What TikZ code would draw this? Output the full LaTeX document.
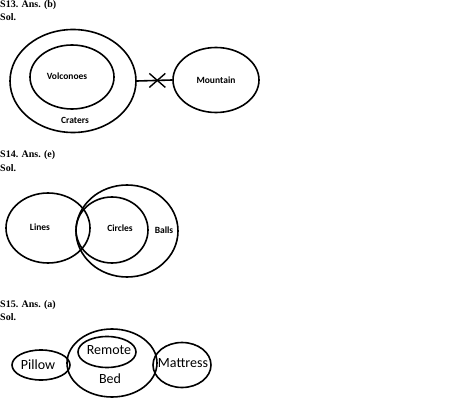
\documentclass[tikz,border=0pt]{standalone}
\usepackage{fontspec}
\setmainfont{Liberation Serif}
\newfontfamily\labelfont{Carlito}
\usetikzlibrary{shapes.geometric, positioning, calc}

\begin{document}
\begin{tikzpicture}[
    x=1pt, y=-1pt,
    heading/.style={anchor=west, inner sep=0pt, font=\bfseries\fontsize{10}{12}\selectfont},
    setbox/.style={ellipse, draw, line width=1.6pt, inner sep=0pt},
    boldlabel/.style={inner sep=0pt, font=\labelfont\bfseries\fontsize{9.5}{11}\selectfont},
    plainlabel/.style={inner sep=0pt, font=\labelfont\fontsize{14}{16}\selectfont}
]
\useasboundingbox (0,0) rectangle (474,401);

% S13
\node[heading] (h13) at (0,5) {S13. Ans. (b)};
\node[heading] (s13) at (0,17) {Sol.};
\node[setbox, minimum width=126, minimum height=103] (craters) at (73,81) {};
\node[setbox, minimum width=84, minimum height=64] (volc) at (72,77) {};
\node[boldlabel] (volctext) at (67,76) {Volconoes};
\node[boldlabel] (cratext) at (75,120) {Craters};
\node[setbox, minimum width=86, minimum height=65, boldlabel, line width=1.6pt, draw] (mountain) at (216,80) {Mountain};
\draw[line width=1.6pt] (craters.east) -- (mountain.west);
\coordinate (cut) at ($(craters.east)!0.58!(mountain.west)$);
\draw[line width=1.4pt] ([shift={(-8,-7)}]cut) -- ([shift={(8,7)}]cut);
\draw[line width=1.4pt] ([shift={(-8,7)}]cut) -- ([shift={(8,-7)}]cut);

% S14
\node[heading] (h14) at (0,155) {S14. Ans. (e)};
\node[heading] (s14) at (0,168) {Sol.};
\node[setbox, minimum width=84, minimum height=70] (lines) at (48,228) {};
\node[setbox, minimum width=102, minimum height=92] (balls) at (127,231) {};
\node[setbox, minimum width=72, minimum height=66] (circles) at (112,230) {};
\node[boldlabel] (linestext) at (40,227) {Lines};
\node[boldlabel] (circtext) at (120,228) {Circles};
\node[boldlabel] (ballstext) at (164,230) {Balls};

% S15
\node[heading] (h15) at (0,305) {S15. Ans. (a)};
\node[heading] (s15) at (0,317) {Sol.};
\node[setbox, minimum width=58, minimum height=30] (pillow) at (41,365) {};
\node[setbox, minimum width=90, minimum height=68] (bed) at (112,363) {};
\node[setbox, minimum width=58, minimum height=31] (remote) at (107,352) {};
\node[setbox, minimum width=58, minimum height=45] (mattress) at (182,365) {};
\node[plainlabel] (pillowtext) at (38,365) {Pillow};
\node[plainlabel] (remotetext) at (109,350) {Remote};
\node[plainlabel] (bedtext) at (110,379) {Bed};
\node[plainlabel] (mattext) at (183,363) {Mattress};

\end{tikzpicture}
\end{document}
